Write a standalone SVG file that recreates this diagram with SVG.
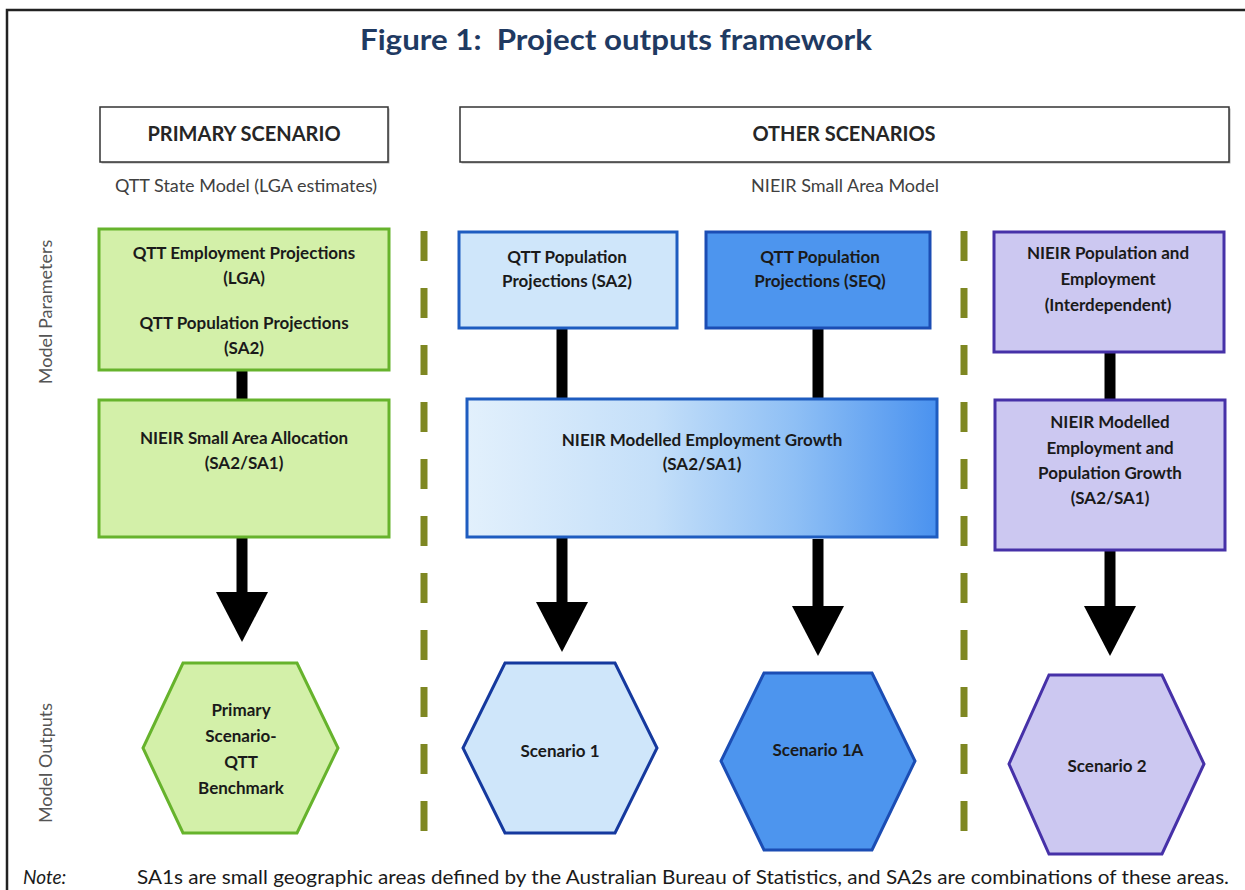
<svg xmlns="http://www.w3.org/2000/svg" width="1245" height="890" viewBox="0 0 1245 890">
<defs>
<linearGradient id="gradWide" x1="0" y1="0" x2="1" y2="0">
<stop offset="0" stop-color="#E2F0FC"/>
<stop offset="0.4" stop-color="#C4DFF9"/>
<stop offset="0.7" stop-color="#8EBFF5"/>
<stop offset="1" stop-color="#4A92EF"/>
</linearGradient>
<marker id="head" viewBox="0 0 50 52" markerUnits="userSpaceOnUse" markerWidth="50" markerHeight="52" refX="0" refY="26" orient="auto">
<path d="M0,0 L50,26 L0,52 Z" fill="#000"/>
</marker>
</defs>
<style>
.t{font-family:Lato,"Open Sans","Liberation Sans",sans-serif;fill:#1a1a1a;text-anchor:middle}
.b{font-weight:bold;font-size:17px}
.hdr{font-weight:bold;font-size:20px;fill:#262626}
.sub{font-size:18px;fill:#404040}
.side{font-size:18px;fill:#555}
.green{fill:#D3F0A9;stroke:#66B32C;stroke-width:3}
.lblue{fill:#CFE6FA;stroke:#1E5CC0;stroke-width:3}
.lbluehex{fill:#CFE6FA;stroke:#15399E;stroke-width:3}
.dblue{fill:#4D95EE;stroke:#1B4DB4;stroke-width:3}
.purple{fill:#CCC8F1;stroke:#4631A8;stroke-width:3}
.hbox{fill:#fff;stroke:#333;stroke-width:1.5}
.shadow{fill:#b0b0b0}
.bar{stroke:#000;stroke-width:11;fill:none}
.sep{stroke:#7E8722;stroke-width:7;stroke-dasharray:30 27;fill:none}
.frame{stroke:#222;stroke-width:2.5;fill:none}
</style>

<g id="frame">
<path class="frame" d="M7,890 V10 H1245"/>
</g>

<text id="title" x="616" y="50" class="t" xml:space="preserve" textLength="512" lengthAdjust="spacingAndGlyphs" style="font-weight:bold;font-size:29px;fill:#1F3A62">Figure 1:  Project outputs framework</text>

<g id="header-primary">
<rect class="shadow" x="101.5" y="108.5" width="288" height="55"/>
<rect class="hbox" x="100" y="107" width="288" height="55"/>
<text class="t hdr" x="244" y="141">PRIMARY SCENARIO</text>
</g>
<g id="header-other">
<rect class="shadow" x="461.5" y="108.5" width="769" height="55"/>
<rect class="hbox" x="460" y="107" width="769" height="55"/>
<text class="t hdr" x="844" y="141">OTHER SCENARIOS</text>
</g>

<text id="sub-primary" class="t sub" x="246" y="192">QTT State Model (LGA estimates)</text>
<text id="sub-other" class="t sub" x="845" y="192">NIEIR Small Area Model</text>

<text id="label-params" class="t side" transform="translate(52,312) rotate(-90)">Model Parameters</text>
<text id="label-outputs" class="t side" transform="translate(52,763) rotate(-90)">Model Outputs</text>

<g id="separators">
<line class="sep" x1="424" y1="231" x2="424" y2="832"/>
<line class="sep" x1="964" y1="231" x2="964" y2="832"/>
</g>

<g id="connectors">
<line class="bar" x1="242" y1="370" x2="242" y2="400"/>
<line class="bar" x1="562" y1="328" x2="562" y2="399"/>
<line class="bar" x1="818" y1="328" x2="818" y2="399"/>
<line class="bar" x1="1110" y1="352" x2="1110" y2="400"/>
<line class="bar" x1="242" y1="537" x2="242" y2="592" marker-end="url(#head)"/>
<line class="bar" x1="562" y1="537" x2="562" y2="602" marker-end="url(#head)"/>
<line class="bar" x1="818" y1="539" x2="818" y2="606" marker-end="url(#head)"/>
<line class="bar" x1="1110" y1="550" x2="1110" y2="606" marker-end="url(#head)"/>
</g>

<g id="qtt-emp-pop">
<rect class="green" x="99" y="229" width="290" height="141"/>
<text class="t b" x="244" y="259">QTT Employment Projections</text>
<text class="t b" x="244" y="284">(LGA)</text>
<text class="t b" x="244" y="329">QTT Population Projections</text>
<text class="t b" x="244" y="354">(SA2)</text>
</g>
<g id="nieir-allocation">
<rect class="green" x="99" y="400" width="290" height="137"/>
<text class="t b" x="244" y="444">NIEIR Small Area Allocation</text>
<text class="t b" x="244" y="469">(SA2/SA1)</text>
</g>

<g id="qtt-pop-sa2">
<rect class="lblue" x="459" y="232" width="218" height="96"/>
<text class="t b" x="567" y="263">QTT Population</text>
<text class="t b" x="567" y="287">Projections (SA2)</text>
</g>
<g id="qtt-pop-seq">
<rect class="dblue" x="706" y="232" width="224" height="96"/>
<text class="t b" x="820" y="263">QTT Population</text>
<text class="t b" x="820" y="287">Projections (SEQ)</text>
</g>
<g id="nieir-emp-growth">
<rect x="467" y="399" width="470" height="138" fill="url(#gradWide)" stroke="#1E5CC0" stroke-width="3"/>
<text class="t b" x="702" y="446">NIEIR Modelled Employment Growth</text>
<text class="t b" x="702" y="470">(SA2/SA1)</text>
</g>

<g id="nieir-pop-emp">
<rect class="purple" x="994" y="232" width="230" height="120"/>
<text class="t b" x="1108" y="259">NIEIR Population and</text>
<text class="t b" x="1108" y="285">Employment</text>
<text class="t b" x="1108" y="311">(Interdependent)</text>
</g>
<g id="nieir-emp-pop-growth">
<rect class="purple" x="995" y="400" width="230" height="150"/>
<text class="t b" x="1110" y="428">NIEIR Modelled</text>
<text class="t b" x="1110" y="454">Employment and</text>
<text class="t b" x="1110" y="479">Population Growth</text>
<text class="t b" x="1110" y="504">(SA2/SA1)</text>
</g>

<g id="out-primary">
<polygon class="green" points="183,663 297,663 338,748 297,833 183,833 143,748"/>
<text class="t b" x="241" y="716">Primary</text>
<text class="t b" x="241" y="742">Scenario-</text>
<text class="t b" x="241" y="768">QTT</text>
<text class="t b" x="241" y="794">Benchmark</text>
</g>
<g id="out-scenario1">
<polygon class="lbluehex" points="505,663 615,663 657,748 615,833 505,833 463,748"/>
<text class="t b" x="560" y="757">Scenario 1</text>
</g>
<g id="out-scenario1a">
<polygon class="dblue" points="764,673 872,673 915,761 872,850 764,850 721,761"/>
<text class="t b" x="818" y="756">Scenario 1A</text>
</g>
<g id="out-scenario2">
<polygon class="purple" points="1049,675 1162,675 1204,764 1162,854 1049,854 1009,764"/>
<text class="t b" x="1107" y="772">Scenario 2</text>
</g>

<g id="note">
<text x="23" y="884" style="font-family:Lato,'Liberation Sans',sans-serif;font-size:19px;font-style:italic;fill:#1a1a1a">Note:</text>
<text x="137" y="884" textLength="1092" lengthAdjust="spacingAndGlyphs" style="font-family:Lato,'Liberation Sans',sans-serif;font-size:19px;fill:#1a1a1a">SA1s are small geographic areas defined by the Australian Bureau of Statistics, and SA2s are combinations of these areas.</text>
</g>
</svg>
